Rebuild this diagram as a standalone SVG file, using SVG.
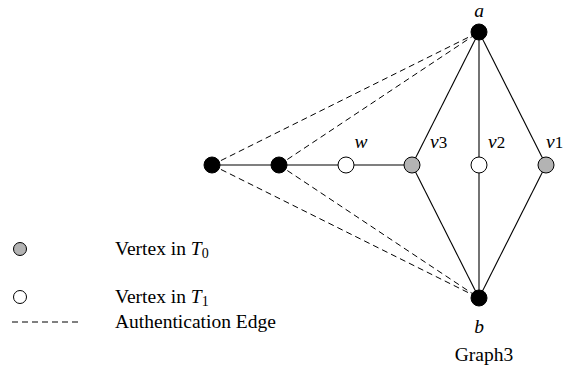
<svg xmlns="http://www.w3.org/2000/svg" width="563" height="369" viewBox="0 0 563 369">
<style>
.e{stroke:#000;stroke-width:1.1;fill:none}
.d{stroke:#000;stroke-width:1;fill:none;stroke-dasharray:6,4}
.k{fill:#000;stroke:#000;stroke-width:1}
.g{fill:#b3b3b3;stroke:#000;stroke-width:1}
.w{fill:#fff;stroke:#000;stroke-width:1}
text{font-family:"Liberation Serif","Times New Roman",serif;font-size:19.5px;fill:#000}
.i{font-style:italic}
</style>
<rect width="563" height="369" fill="#fff"/>
<g id="connectors">
<line class="d" x1="212" y1="165" x2="479" y2="32"/>
<line class="d" x1="279" y1="165" x2="479" y2="32"/>
<line class="d" x1="212" y1="165" x2="479" y2="298"/>
<line class="d" x1="279" y1="165" x2="479" y2="298"/>
<line class="e" x1="212" y1="165" x2="412" y2="165"/>
<line class="e" x1="479" y1="32" x2="412" y2="165"/>
<line class="e" x1="479" y1="32" x2="479" y2="298"/>
<line class="e" x1="479" y1="32" x2="546" y2="165"/>
<line class="e" x1="412" y1="165" x2="479" y2="298"/>
<line class="e" x1="546" y1="165" x2="479" y2="298"/>
</g>
<g id="a"><circle class="k" cx="479" cy="32" r="8"/><text class="i" x="479" y="17" font-size="17" text-anchor="middle">a</text></g>
<g id="b"><circle class="k" cx="479" cy="298" r="8"/><text class="i" x="479" y="333" text-anchor="middle">b</text></g>
<g id="x1"><circle class="k" cx="212" cy="165" r="8"/></g>
<g id="x2"><circle class="k" cx="279" cy="165" r="8"/></g>
<g id="w"><circle class="w" cx="346" cy="165" r="8"/><text class="i" x="361" y="148" text-anchor="middle">w</text></g>
<g id="v3"><circle class="g" cx="412" cy="165" r="8"/><text class="i" x="430" y="148">v<tspan font-style="normal" font-size="17">3</tspan></text></g>
<g id="v2"><circle class="w" cx="479" cy="165" r="8"/><text class="i" x="488" y="148">v<tspan font-style="normal" font-size="17">2</tspan></text></g>
<g id="v1"><circle class="g" cx="546" cy="165" r="8"/><text class="i" x="546" y="148">v<tspan font-style="normal" font-size="17">1</tspan></text></g>
<g id="graph3"><text x="484" y="361" text-anchor="middle">Graph3</text></g>
<g id="legend">
<circle class="g" cx="20" cy="249" r="6.5"/>
<text x="115" y="255">Vertex in <tspan class="i">T</tspan><tspan font-size="14" dy="3">0</tspan></text>
<circle class="w" cx="20" cy="297" r="6.5"/>
<text x="115" y="303">Vertex in <tspan class="i">T</tspan><tspan font-size="14" dy="3">1</tspan></text>
<line class="d" x1="12" y1="322" x2="80" y2="322"/>
<text x="115" y="328">Authentication Edge</text>
</g>
</svg>
